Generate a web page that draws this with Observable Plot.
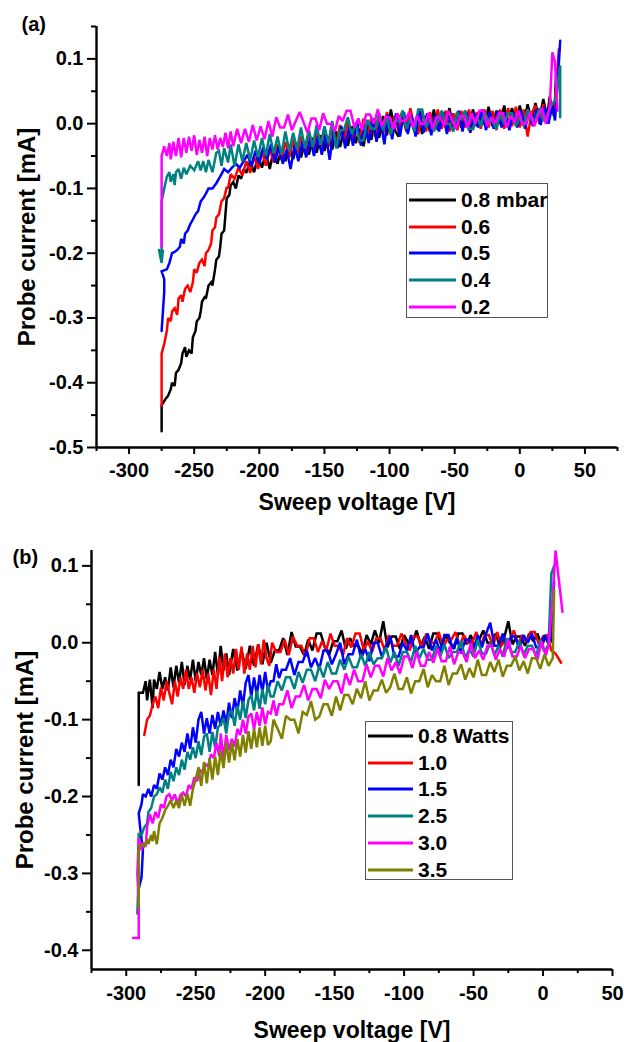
<!DOCTYPE html>
<html>
<head>
<meta charset="utf-8">
<script src="https://cdn.jsdelivr.net/npm/d3@7"></script>
<script src="https://cdn.jsdelivr.net/npm/@observablehq/plot@0.6"></script>
<style>
  html, body { margin: 0; padding: 0; background: #fff; }
  #wrap { position: relative; width: 624px; height: 1042px; overflow: hidden; font-family: "Liberation Sans", Arial, sans-serif; font-weight: bold; }
  .panel { position: absolute; left: 0; }
  .panel text { font-weight: bold; }
  .legend { position: absolute; border: 1px solid #555; background: #fff; box-sizing: border-box; }
  .legend .row { position: absolute; left: 0; height: 22px; display: flex; align-items: center; font-size: 21px; color: #000; white-space: nowrap; }
  .legend .row svg { display: block; }
</style>
</head>
<body>
<div id="wrap"></div>
<script>
// ---------- Panel (a): pressure series ----------
const seriesA = ["0.8 mbar", "0.6", "0.5", "0.4", "0.2"];
const colorsA = ["#000000", "#ff0000", "#0000ff", "#008080", "#ff00ff"];

const a08 = [[-275,-0.475],[-275,-0.435],[-272,-0.425],[-270,-0.42],[-268,-0.41],[-267,-0.4],[-265,-0.405],[-264,-0.385],[-262,-0.38],[-260,-0.37],[-259,-0.355],[-257,-0.345],[-256,-0.36],[-254,-0.35],[-252,-0.355],[-251,-0.33],[-249,-0.32],[-248,-0.305],[-246,-0.3],[-245,-0.29],[-244,-0.275],[-242,-0.268],[-241,-0.27],[-239,-0.25],[-237,-0.245],[-236,-0.25],[-234,-0.225],[-233,-0.21],[-231,-0.205],[-230,-0.19],[-229,-0.17],[-227,-0.165],[-226,-0.14],[-225,-0.115],[-223,-0.11],[-222,-0.095],[-220,-0.09],[-218,-0.1],[-216,-0.08],[-214,-0.085],[-212,-0.07],[-210,-0.076],[-207,-0.058],[-204,-0.075],[-201,-0.05],[-198,-0.068],[-195,-0.045],[-192,-0.07],[-189,-0.04],[-186,-0.062],[-183,-0.038],[-180,-0.058],[-177,-0.032],[-174,-0.055],[-171,-0.03],[-168,-0.052],[-165,-0.028],[-162,-0.048],[-159,-0.022],[-156,-0.045],[-153,-0.018],[-150,-0.042],[-147,-0.02],[-144,-0.04],[-141,-0.012],[-138,-0.036],[-135,-0.01],[-132,-0.034],[-129,-0.004],[-126,-0.03],[-123,-0.008],[-120,-0.035],[-117,0.0],[-114,-0.025],[-111,0.005],[-108,-0.022],[-105,0.012],[-102,-0.018],[-99,0.022],[-96,-0.01],[-93,-0.02],[-90,0.012],[-87,-0.012],[-84,0.02],[-81,-0.012],[-78,0.016],[-75,-0.016],[-72,0.012],[-69,-0.012],[-66,0.022],[-63,-0.01],[-60,0.016],[-57,-0.006],[-54,0.024],[-51,-0.008],[-48,0.018],[-45,-0.006],[-42,0.02],[-39,-0.01],[-36,0.022],[-33,-0.004],[-30,0.018],[-27,-0.002],[-24,0.026],[-21,-0.004],[-18,0.02],[-15,0.0],[-12,0.028],[-9,-0.002],[-6,0.024],[-3,0.002],[0,0.028],[3,0.0],[6,0.03],[9,0.004],[12,0.032],[15,0.006],[18,0.038],[21,0.01],[23,0.042],[25,0.015],[27,0.035],[28,0.085],[29,0.06]];

const a06 = [[-275,-0.435],[-275,-0.355],[-273,-0.34],[-271,-0.32],[-270,-0.3],[-268,-0.305],[-267,-0.29],[-265,-0.285],[-263,-0.295],[-262,-0.27],[-260,-0.265],[-259,-0.275],[-257,-0.255],[-255,-0.25],[-253,-0.26],[-251,-0.245],[-250,-0.225],[-248,-0.23],[-246,-0.215],[-244,-0.21],[-242,-0.22],[-241,-0.2],[-239,-0.195],[-237,-0.185],[-236,-0.165],[-234,-0.16],[-233,-0.145],[-231,-0.14],[-229,-0.12],[-227,-0.115],[-225,-0.098],[-224,-0.1],[-222,-0.078],[-219,-0.085],[-216,-0.068],[-213,-0.08],[-210,-0.058],[-207,-0.076],[-204,-0.05],[-201,-0.07],[-198,-0.042],[-195,-0.065],[-192,-0.038],[-189,-0.06],[-186,-0.032],[-183,-0.056],[-180,-0.028],[-177,-0.052],[-174,-0.025],[-171,-0.048],[-168,-0.02],[-165,-0.044],[-162,-0.012],[-159,-0.04],[-156,-0.014],[-153,-0.038],[-150,-0.006],[-147,-0.036],[-144,-0.004],[-141,-0.032],[-138,-0.002],[-135,-0.028],[-132,0.004],[-129,-0.026],[-126,0.0],[-123,-0.03],[-120,0.008],[-117,-0.022],[-114,0.01],[-111,-0.02],[-108,0.015],[-105,-0.016],[-102,0.018],[-99,-0.018],[-96,0.012],[-93,-0.014],[-90,0.02],[-87,-0.012],[-84,0.024],[-81,-0.008],[-78,-0.016],[-75,0.02],[-72,-0.012],[-69,0.018],[-66,-0.01],[-63,0.022],[-60,-0.008],[-57,0.02],[-54,-0.012],[-51,0.016],[-48,-0.01],[-45,0.02],[-42,-0.006],[-39,0.022],[-36,-0.01],[-33,0.018],[-30,-0.008],[-27,0.022],[-24,-0.006],[-21,0.02],[-18,-0.01],[-15,0.022],[-12,-0.008],[-9,0.024],[-6,-0.004],[-3,0.026],[0,-0.006],[3,0.022],[6,-0.02],[9,0.016],[12,0.028],[15,0.0],[18,0.03],[21,0.004],[24,0.035],[26,0.012],[28,0.06],[30,0.115]];

const a05 = [[-275,-0.32],[-274,-0.29],[-273,-0.26],[-273,-0.24],[-275,-0.228],[-271,-0.225],[-269,-0.215],[-267,-0.2],[-265,-0.198],[-263,-0.195],[-261,-0.19],[-260,-0.178],[-258,-0.185],[-257,-0.17],[-255,-0.165],[-253,-0.155],[-251,-0.148],[-249,-0.14],[-247,-0.135],[-245,-0.12],[-243,-0.115],[-241,-0.108],[-239,-0.1],[-236,-0.1],[-233,-0.092],[-231,-0.085],[-229,-0.078],[-227,-0.07],[-224,-0.075],[-221,-0.068],[-218,-0.062],[-215,-0.068],[-212,-0.058],[-209,-0.048],[-206,-0.066],[-203,-0.042],[-200,-0.062],[-197,-0.036],[-194,-0.055],[-191,-0.032],[-188,-0.06],[-185,-0.035],[-182,-0.062],[-179,-0.04],[-176,-0.07],[-173,-0.034],[-170,-0.058],[-167,-0.028],[-164,-0.052],[-161,-0.022],[-158,-0.05],[-155,-0.02],[-152,-0.048],[-149,-0.016],[-146,-0.056],[-143,-0.012],[-140,-0.038],[-137,-0.004],[-134,-0.038],[-131,-0.006],[-128,-0.034],[-125,0.004],[-122,-0.034],[-119,0.0],[-116,-0.03],[-113,0.008],[-110,-0.028],[-107,0.006],[-104,-0.032],[-101,0.014],[-98,-0.024],[-95,0.016],[-92,-0.02],[-89,0.018],[-86,-0.016],[-83,0.012],[-80,-0.02],[-77,0.02],[-74,-0.014],[-71,0.016],[-68,-0.018],[-65,0.014],[-62,-0.012],[-59,0.018],[-56,-0.016],[-53,0.014],[-50,-0.008],[-47,0.02],[-44,-0.012],[-41,0.018],[-38,-0.014],[-35,0.016],[-32,-0.006],[-29,0.022],[-26,-0.01],[-23,0.018],[-20,-0.008],[-17,0.02],[-14,-0.006],[-11,0.016],[-8,-0.01],[-5,0.018],[-2,-0.006],[1,0.02],[4,-0.008],[7,0.018],[10,-0.004],[13,0.022],[16,-0.002],[19,0.026],[22,0.0],[25,0.028],[27,0.005],[29,0.06],[31,0.128]];

const a04 = [[-277,-0.195],[-275,-0.215],[-274,-0.195],[-275,-0.2],[-275,-0.12],[-273,-0.1],[-271,-0.082],[-269,-0.075],[-268,-0.09],[-266,-0.078],[-265,-0.095],[-264,-0.075],[-262,-0.07],[-260,-0.085],[-258,-0.068],[-256,-0.078],[-253,-0.065],[-250,-0.072],[-247,-0.058],[-245,-0.072],[-243,-0.058],[-241,-0.075],[-239,-0.056],[-236,-0.075],[-233,-0.045],[-231,-0.042],[-229,-0.065],[-227,-0.038],[-224,-0.06],[-222,-0.032],[-219,-0.066],[-216,-0.032],[-213,-0.058],[-210,-0.03],[-207,-0.056],[-204,-0.026],[-201,-0.052],[-198,-0.022],[-195,-0.05],[-192,-0.016],[-189,-0.046],[-186,-0.02],[-183,-0.048],[-180,-0.012],[-177,-0.042],[-174,-0.014],[-171,-0.04],[-168,-0.006],[-165,-0.038],[-162,-0.01],[-159,-0.036],[-156,-0.002],[-153,-0.033],[-150,-0.004],[-147,-0.03],[-144,0.004],[-141,-0.038],[-138,-0.01],[-135,-0.01],[-132,0.01],[-129,-0.016],[-126,0.0],[-123,-0.026],[-120,-0.026],[-117,0.006],[-114,-0.008],[-111,-0.008],[-108,0.016],[-105,-0.01],[-102,0.01],[-99,-0.016],[-96,0.004],[-93,0.004],[-90,0.02],[-87,-0.008],[-84,0.008],[-81,-0.012],[-78,0.022],[-75,0.022],[-72,-0.006],[-69,0.008],[-66,-0.012],[-63,0.004],[-60,0.02],[-57,0.0],[-54,0.0],[-51,-0.012],[-48,0.018],[-45,0.006],[-42,0.02],[-39,-0.008],[-36,-0.008],[-33,0.012],[-30,-0.004],[-27,0.018],[-24,0.004],[-21,0.004],[-18,-0.008],[-15,0.014],[-12,0.0],[-9,0.016],[-6,0.016],[-3,-0.004],[0,0.01],[3,-0.004],[6,0.022],[9,0.006],[12,0.006],[15,0.024],[18,0.004],[21,0.014],[24,0.028],[27,0.035],[29,0.06],[31,0.09],[31,0.01]];

const a02 = [[-275,-0.19],[-275,-0.05],[-273,-0.035],[-271,-0.05],[-269,-0.03],[-268,-0.055],[-266,-0.028],[-264,-0.05],[-262,-0.022],[-260,-0.052],[-258,-0.022],[-256,-0.045],[-254,-0.02],[-252,-0.042],[-250,-0.018],[-248,-0.048],[-246,-0.025],[-244,-0.045],[-242,-0.02],[-240,-0.05],[-238,-0.022],[-236,-0.04],[-234,-0.018],[-232,-0.04],[-230,-0.022],[-228,-0.036],[-226,-0.014],[-224,-0.038],[-222,-0.012],[-220,-0.035],[-217,-0.008],[-214,-0.03],[-211,-0.008],[-208,-0.028],[-205,-0.002],[-202,-0.026],[-199,-0.004],[-196,-0.024],[-193,0.004],[-190,-0.02],[-187,0.01],[-184,-0.006],[-181,-0.006],[-178,0.014],[-175,-0.01],[-172,0.004],[-169,0.018],[-166,0.002],[-163,-0.014],[-160,0.008],[-157,0.008],[-154,-0.01],[-151,0.016],[-148,0.0],[-145,0.0],[-142,-0.012],[-139,0.012],[-136,0.004],[-133,0.02],[-130,0.02],[-127,-0.006],[-124,0.008],[-121,-0.01],[-118,0.014],[-115,0.014],[-112,0.0],[-109,0.022],[-106,-0.004],[-103,0.01],[-100,0.01],[-97,-0.008],[-94,0.016],[-91,0.004],[-88,0.004],[-85,0.018],[-82,-0.006],[-79,0.012],[-76,0.0],[-73,0.0],[-70,0.016],[-67,-0.008],[-64,0.01],[-61,0.01],[-58,-0.004],[-55,0.02],[-52,0.006],[-49,-0.008],[-46,0.012],[-43,0.012],[-40,-0.006],[-37,0.016],[-34,0.0],[-31,0.02],[-28,0.02],[-25,-0.004],[-22,0.01],[-19,0.0],[-16,0.016],[-13,0.016],[-10,-0.006],[-7,0.012],[-4,0.002],[-1,0.02],[2,0.0],[5,0.0],[8,0.018],[11,-0.004],[14,0.012],[17,0.024],[20,0.0],[23,0.026],[25,0.11],[27,0.095],[29,0.02]];

// ---------- Panel (b): power series ----------
const seriesB = ["0.8 Watts", "1.0", "1.5", "2.5", "3.0", "3.5"];
const colorsB = ["#000000", "#ff0000", "#0000ff", "#008080", "#ff00ff", "#808000"];

const b08 = [[-291,-0.185],[-291,-0.065],[-288,-0.065],[-286,-0.05],[-285,-0.075],[-283,-0.048],[-281,-0.085],[-280,-0.048],[-278,-0.06],[-276,-0.038],[-274,-0.06],[-272,-0.045],[-270,-0.062],[-268,-0.032],[-266,-0.058],[-264,-0.03],[-262,-0.052],[-260,-0.025],[-258,-0.055],[-256,-0.03],[-254,-0.048],[-252,-0.022],[-250,-0.05],[-248,-0.025],[-246,-0.042],[-244,-0.02],[-242,-0.048],[-240,-0.022],[-238,-0.042],[-236,-0.012],[-234,-0.042],[-232,-0.004],[-230,-0.036],[-228,-0.014],[-226,-0.042],[-223,-0.008],[-220,-0.036],[-217,-0.01],[-214,-0.034],[-211,-0.004],[-208,-0.03],[-205,-0.002],[-202,-0.028],[-199,0.0],[-196,-0.026],[-193,-0.01],[-190,-0.01],[-187,0.006],[-184,-0.016],[-181,0.014],[-178,-0.005],[-175,-0.005],[-172,-0.016],[-169,0.004],[-166,-0.01],[-163,0.012],[-160,0.012],[-157,-0.006],[-154,-0.016],[-151,0.002],[-148,0.002],[-145,0.016],[-142,-0.008],[-139,0.006],[-136,-0.004],[-133,-0.004],[-130,-0.014],[-127,0.01],[-124,-0.002],[-121,0.016],[-118,0.0],[-115,0.028],[-112,-0.006],[-109,0.008],[-106,0.008],[-103,-0.008],[-100,0.01],[-97,0.0],[-94,0.0],[-91,0.016],[-88,-0.004],[-85,0.008],[-82,-0.008],[-79,0.012],[-76,0.012],[-73,-0.004],[-70,0.01],[-67,0.0],[-64,-0.008],[-61,0.012],[-58,0.012],[-55,-0.002],[-52,0.01],[-49,-0.006],[-46,0.004],[-43,0.016],[-40,0.0],[-37,0.0],[-34,0.012],[-31,-0.006],[-28,0.006],[-25,0.028],[-22,-0.002],[-19,0.008],[-16,0.008],[-13,-0.004],[-10,0.012],[-7,0.002],[-4,0.012],[-1,-0.004],[2,0.008],[5,0.008],[7,0.0]];

const b10 = [[-287,-0.12],[-285,-0.1],[-283,-0.095],[-281,-0.08],[-279,-0.07],[-277,-0.085],[-275,-0.058],[-273,-0.075],[-271,-0.05],[-269,-0.065],[-267,-0.08],[-265,-0.05],[-263,-0.07],[-261,-0.045],[-259,-0.06],[-257,-0.035],[-255,-0.06],[-253,-0.045],[-251,-0.065],[-249,-0.04],[-247,-0.058],[-245,-0.035],[-243,-0.062],[-241,-0.04],[-239,-0.068],[-237,-0.035],[-235,-0.06],[-233,-0.018],[-231,-0.05],[-229,-0.014],[-227,-0.045],[-225,-0.02],[-223,-0.04],[-221,-0.008],[-219,-0.035],[-217,-0.005],[-215,-0.04],[-213,-0.014],[-211,-0.035],[-209,-0.004],[-207,-0.032],[-205,-0.002],[-203,-0.028],[-201,0.004],[-199,-0.02],[-197,-0.03],[-195,0.0],[-192,-0.012],[-189,-0.012],[-186,0.004],[-183,-0.016],[-180,0.008],[-177,-0.004],[-174,-0.004],[-171,-0.018],[-168,0.006],[-165,0.006],[-162,-0.012],[-159,0.002],[-156,-0.01],[-153,0.012],[-150,-0.004],[-147,-0.004],[-144,-0.016],[-141,0.006],[-138,-0.006],[-135,0.012],[-132,0.012],[-129,-0.01],[-126,0.002],[-123,-0.012],[-120,0.006],[-117,0.006],[-114,-0.01],[-111,0.01],[-108,-0.004],[-105,-0.004],[-102,0.012],[-99,0.0],[-96,-0.01],[-93,0.008],[-90,0.008],[-87,-0.006],[-84,0.012],[-81,0.0],[-78,0.0],[-75,0.014],[-72,-0.006],[-69,0.004],[-66,0.004],[-63,0.014],[-60,-0.004],[-57,0.01],[-54,0.0],[-51,0.0],[-48,0.014],[-45,-0.004],[-42,0.01],[-39,0.01],[-36,-0.004],[-33,0.014],[-30,-0.004],[-27,0.004],[-24,0.004],[-21,0.016],[-18,-0.002],[-15,0.01],[-12,0.0],[-9,0.014],[-6,0.014],[-3,-0.002],[0,0.008],[3,0.01],[6,-0.01],[9,-0.014],[13,-0.026]];

const b15 = [[-291,-0.32],[-289,-0.305],[-288,-0.27],[-290,-0.24],[-291,-0.222],[-289,-0.21],[-288,-0.197],[-286,-0.2],[-284,-0.19],[-282,-0.2],[-280,-0.185],[-278,-0.19],[-276,-0.17],[-274,-0.178],[-272,-0.162],[-270,-0.172],[-268,-0.152],[-266,-0.162],[-264,-0.138],[-262,-0.148],[-260,-0.13],[-258,-0.142],[-256,-0.118],[-254,-0.138],[-252,-0.11],[-250,-0.13],[-248,-0.1],[-246,-0.09],[-244,-0.118],[-242,-0.098],[-240,-0.118],[-238,-0.094],[-236,-0.112],[-234,-0.09],[-232,-0.108],[-230,-0.088],[-228,-0.106],[-226,-0.078],[-224,-0.098],[-222,-0.072],[-220,-0.09],[-218,-0.062],[-216,-0.082],[-214,-0.052],[-212,-0.042],[-210,-0.07],[-208,-0.045],[-206,-0.068],[-204,-0.042],[-202,-0.064],[-200,-0.038],[-198,-0.062],[-196,-0.05],[-194,-0.05],[-192,-0.028],[-190,-0.046],[-188,-0.035],[-185,-0.035],[-182,-0.02],[-179,-0.042],[-176,-0.025],[-173,-0.025],[-170,-0.01],[-167,-0.032],[-164,-0.02],[-161,-0.034],[-158,-0.01],[-155,-0.01],[-152,-0.028],[-149,-0.015],[-146,0.0],[-143,-0.028],[-140,-0.015],[-137,-0.015],[-134,0.004],[-131,-0.02],[-128,-0.008],[-125,-0.024],[-122,0.0],[-119,0.0],[-116,-0.018],[-113,-0.005],[-110,0.008],[-107,-0.018],[-104,-0.018],[-101,0.0],[-98,-0.01],[-95,0.01],[-92,-0.014],[-89,-0.006],[-86,-0.006],[-83,0.012],[-80,-0.01],[-77,0.004],[-74,-0.012],[-71,0.01],[-68,0.01],[-65,-0.008],[-62,0.006],[-59,-0.014],[-56,0.004],[-53,0.004],[-50,-0.01],[-47,0.01],[-44,-0.006],[-41,0.012],[-38,0.026],[-35,-0.004],[-32,-0.004],[-29,0.012],[-26,-0.008],[-23,0.008],[-20,0.008],[-17,-0.008],[-14,0.01],[-11,0.0],[-8,0.012],[-5,-0.006],[-2,-0.006],[1,0.01],[4,-0.002],[6,0.012],[8,0.08]];

const b25 = [[-292,-0.352],[-291,-0.3],[-291,-0.249],[-289,-0.25],[-287,-0.24],[-285,-0.235],[-284,-0.22],[-282,-0.215],[-280,-0.2],[-278,-0.197],[-276,-0.188],[-274,-0.195],[-272,-0.178],[-270,-0.19],[-268,-0.168],[-266,-0.18],[-264,-0.162],[-262,-0.172],[-260,-0.152],[-258,-0.165],[-256,-0.142],[-254,-0.152],[-252,-0.136],[-250,-0.15],[-248,-0.128],[-246,-0.146],[-244,-0.122],[-242,-0.118],[-240,-0.142],[-238,-0.116],[-236,-0.136],[-234,-0.11],[-232,-0.106],[-230,-0.098],[-228,-0.118],[-226,-0.092],[-224,-0.088],[-222,-0.108],[-220,-0.082],[-218,-0.1],[-216,-0.076],[-214,-0.098],[-212,-0.074],[-210,-0.068],[-208,-0.088],[-206,-0.062],[-204,-0.086],[-202,-0.06],[-200,-0.08],[-198,-0.055],[-196,-0.07],[-194,-0.07],[-191,-0.05],[-188,-0.062],[-185,-0.045],[-182,-0.045],[-179,-0.06],[-176,-0.038],[-173,-0.052],[-170,-0.035],[-167,-0.035],[-164,-0.05],[-161,-0.03],[-158,-0.045],[-155,-0.025],[-152,-0.04],[-149,-0.04],[-146,-0.022],[-143,-0.035],[-140,-0.018],[-137,-0.032],[-134,-0.032],[-131,-0.015],[-128,-0.03],[-125,-0.012],[-122,-0.028],[-119,-0.02],[-116,-0.02],[-113,-0.006],[-110,-0.026],[-107,-0.012],[-104,-0.03],[-101,-0.012],[-98,-0.012],[-95,-0.025],[-92,-0.004],[-89,-0.02],[-86,-0.008],[-83,-0.022],[-80,-0.022],[-77,-0.004],[-74,-0.018],[-71,-0.002],[-68,-0.02],[-65,-0.012],[-62,-0.012],[-59,0.002],[-56,-0.02],[-53,-0.008],[-50,-0.018],[-47,0.004],[-44,-0.014],[-41,-0.014],[-38,0.0],[-35,-0.016],[-32,-0.004],[-29,-0.018],[-26,0.006],[-23,-0.012],[-20,-0.012],[-17,0.002],[-14,-0.016],[-11,-0.004],[-8,-0.004],[-5,-0.018],[-2,0.004],[1,-0.012],[4,-0.002],[6,0.09],[8,0.1]];

const b30 = [[-295,-0.384],[-291,-0.384],[-291,-0.34],[-292,-0.3],[-291,-0.254],[-289,-0.27],[-288,-0.26],[-286,-0.265],[-285,-0.24],[-283,-0.223],[-281,-0.235],[-279,-0.22],[-277,-0.228],[-275,-0.21],[-273,-0.215],[-271,-0.2],[-269,-0.197],[-267,-0.205],[-265,-0.197],[-263,-0.21],[-261,-0.198],[-259,-0.195],[-257,-0.2],[-255,-0.185],[-253,-0.19],[-251,-0.175],[-249,-0.18],[-247,-0.165],[-245,-0.17],[-243,-0.158],[-241,-0.16],[-239,-0.145],[-237,-0.15],[-235,-0.13],[-233,-0.148],[-232,-0.118],[-231,-0.135],[-230,-0.15],[-228,-0.12],[-226,-0.14],[-224,-0.125],[-222,-0.135],[-220,-0.112],[-218,-0.12],[-216,-0.1],[-214,-0.118],[-212,-0.096],[-210,-0.092],[-208,-0.113],[-206,-0.09],[-204,-0.108],[-202,-0.084],[-200,-0.106],[-198,-0.09],[-196,-0.092],[-194,-0.075],[-192,-0.095],[-190,-0.08],[-187,-0.08],[-184,-0.062],[-181,-0.085],[-178,-0.07],[-175,-0.07],[-172,-0.055],[-169,-0.075],[-166,-0.06],[-163,-0.06],[-160,-0.072],[-157,-0.048],[-154,-0.06],[-151,-0.05],[-148,-0.05],[-145,-0.066],[-142,-0.04],[-139,-0.055],[-136,-0.035],[-133,-0.05],[-130,-0.05],[-127,-0.028],[-124,-0.045],[-121,-0.03],[-118,-0.03],[-115,-0.044],[-112,-0.02],[-109,-0.036],[-106,-0.025],[-103,-0.04],[-100,-0.018],[-97,-0.018],[-94,-0.033],[-91,-0.012],[-88,-0.03],[-85,-0.03],[-82,-0.012],[-79,-0.026],[-76,-0.008],[-73,-0.024],[-70,-0.024],[-67,-0.005],[-64,-0.028],[-61,-0.012],[-58,-0.012],[-55,-0.025],[-52,0.0],[-49,-0.02],[-46,-0.01],[-43,-0.022],[-40,-0.004],[-37,-0.004],[-34,-0.022],[-31,-0.008],[-28,-0.018],[-25,0.004],[-22,-0.018],[-19,-0.018],[-16,-0.004],[-13,-0.02],[-10,-0.008],[-7,-0.008],[-4,-0.022],[-1,0.002],[2,-0.016],[4,-0.004],[7,0.06],[9,0.12],[14,0.04]];

const b35 = [[-291,-0.344],[-291,-0.266],[-289,-0.262],[-287,-0.265],[-285,-0.255],[-284,-0.262],[-282,-0.25],[-281,-0.258],[-280,-0.245],[-278,-0.262],[-276,-0.235],[-274,-0.228],[-272,-0.218],[-270,-0.212],[-268,-0.205],[-266,-0.215],[-264,-0.205],[-262,-0.215],[-260,-0.198],[-258,-0.212],[-256,-0.196],[-254,-0.212],[-252,-0.19],[-250,-0.178],[-248,-0.162],[-246,-0.186],[-244,-0.155],[-242,-0.183],[-240,-0.15],[-238,-0.178],[-236,-0.148],[-234,-0.172],[-232,-0.14],[-230,-0.163],[-228,-0.13],[-226,-0.156],[-224,-0.13],[-222,-0.153],[-220,-0.125],[-218,-0.148],[-216,-0.12],[-214,-0.143],[-212,-0.115],[-210,-0.138],[-208,-0.112],[-206,-0.136],[-204,-0.11],[-202,-0.134],[-200,-0.108],[-198,-0.133],[-196,-0.128],[-194,-0.1],[-191,-0.112],[-188,-0.125],[-185,-0.095],[-182,-0.1],[-179,-0.1],[-176,-0.118],[-173,-0.09],[-170,-0.094],[-167,-0.076],[-164,-0.1],[-161,-0.096],[-158,-0.08],[-155,-0.08],[-152,-0.095],[-149,-0.07],[-146,-0.088],[-143,-0.068],[-140,-0.068],[-137,-0.08],[-134,-0.06],[-131,-0.072],[-128,-0.05],[-125,-0.075],[-122,-0.062],[-119,-0.062],[-116,-0.048],[-113,-0.065],[-110,-0.058],[-107,-0.04],[-104,-0.06],[-101,-0.06],[-98,-0.045],[-95,-0.066],[-92,-0.05],[-89,-0.05],[-86,-0.034],[-83,-0.058],[-80,-0.042],[-77,-0.05],[-74,-0.05],[-71,-0.03],[-68,-0.055],[-65,-0.04],[-62,-0.04],[-59,-0.028],[-56,-0.048],[-53,-0.033],[-50,-0.045],[-47,-0.022],[-44,-0.042],[-41,-0.042],[-38,-0.025],[-35,-0.038],[-32,-0.022],[-29,-0.044],[-26,-0.03],[-23,-0.03],[-20,-0.018],[-17,-0.036],[-14,-0.024],[-11,-0.04],[-8,-0.02],[-5,-0.02],[-2,-0.034],[1,-0.015],[4,-0.03],[7,-0.02],[8,0.068]];

// ---------- Tick values ----------
const xMajorA = [-300, -250, -200, -150, -100, -50, 0, 50];
const xMinorA = [-325, -275, -225, -175, -125, -75, -25, 25, 75];
const yMajorA = [-0.5, -0.4, -0.3, -0.2, -0.1, 0, 0.1];
const yMinorA = [-0.45, -0.35, -0.25, -0.15, -0.05, 0.05, 0.15];
const xMajorB = [-300, -250, -200, -150, -100, -50, 0, 50];
const xMinorB = [-325, -275, -225, -175, -125, -75, -25, 25];
const yMajorB = [-0.4, -0.3, -0.2, -0.1, 0, 0.1];
const yMinorB = [-0.35, -0.25, -0.15, -0.05, 0.05];

const FONT = "'Liberation Sans', Arial, Helvetica, sans-serif";
const fmtY = d => Math.abs(d) < 1e-9 ? "0.0" : d.toFixed(1);
const fmtX = d => String(d);

function panel(cfg) {
  const marks = [];
  cfg.series.forEach((data, i) => {
    marks.push(Plot.line(data, {x: d => d[0], y: d => d[1], stroke: cfg.colors[i], strokeWidth: 2.5, strokeLinejoin: "miter", strokeMiterlimit: 2}));
  });
  marks.push(
    Plot.ruleX([cfg.xDomain[0]], {strokeWidth: 2.4}),
    Plot.ruleY([cfg.yDomain[0]], {strokeWidth: 2.4}),
    Plot.axisX(cfg.xMajor, {tickSize: 7, tickPadding: cfg.xPad, strokeWidth: 2, fontSize: 20, fontWeight: "bold", tickFormat: fmtX, label: null}),
    Plot.axisX(cfg.xMinor, {tickSize: 4, strokeWidth: 2, tickFormat: () => "", label: null}),
    Plot.axisY(cfg.yMajor, {tickSize: 9, tickPadding: 4, strokeWidth: 2, fontSize: 20, fontWeight: "bold", tickFormat: fmtY, label: null}),
    Plot.axisY(cfg.yMinor, {tickSize: 5, strokeWidth: 2, tickFormat: () => "", label: null}),
    Plot.text([cfg.xLabel], {text: d => d, frameAnchor: "bottom", textAnchor: "middle", lineAnchor: "middle", dy: cfg.xLabelDy, fontSize: 23, fontWeight: "bold"}),
    Plot.text([cfg.yLabel], {text: d => d, frameAnchor: "left", textAnchor: "middle", lineAnchor: "middle", rotate: -90, dx: cfg.yLabelDx, fontSize: 24, fontWeight: "bold"}),
    Plot.text([cfg.tag], {text: d => d, frameAnchor: "top-left", textAnchor: "start", lineAnchor: "middle", dx: cfg.tagDx, dy: cfg.tagDy, fontSize: 20, fontWeight: "bold"})
  );
  return Plot.plot({
    width: 624,
    height: cfg.height,
    marginLeft: cfg.ml, marginRight: cfg.mr, marginTop: cfg.mt, marginBottom: cfg.mb,
    x: {domain: cfg.xDomain},
    y: {domain: cfg.yDomain},
    style: {fontFamily: FONT, fontWeight: "bold", color: "#000", background: "transparent", overflow: "visible"},
    marks
  });
}

function legend(cfg) {
  const box = document.createElement("div");
  box.className = "legend";
  Object.assign(box.style, {left: cfg.left + "px", top: cfg.top + "px", width: cfg.width + "px", height: cfg.height + "px"});
  cfg.labels.forEach((lab, i) => {
    const row = document.createElement("div");
    row.className = "row";
    row.style.top = (cfg.first + i * cfg.step - 11) + "px";
    row.style.left = cfg.lineX + "px";
    row.innerHTML = `<svg width="${cfg.lineW}" height="22"><line x1="0" x2="${cfg.lineW}" y1="11" y2="11" stroke="${cfg.colors[i]}" stroke-width="3"/></svg><span style="margin-left:${cfg.gap}px">${lab}</span>`;
    box.appendChild(row);
  });
  return box;
}

const wrap = document.getElementById("wrap");

const pa = panel({
  series: [a08, a06, a05, a04, a02], colors: colorsA,
  height: 520, ml: 96, mr: 7, mt: 26, mb: 73,
  xDomain: [-325, 75], yDomain: [-0.5, 0.15],
  xMajor: xMajorA, xMinor: xMinorA, yMajor: yMajorA, yMinor: yMinorA, xPad: 8,
  xLabel: "Sweep voltage [V]", xLabelDy: 55,
  yLabel: "Probe current [mA]", yLabelDx: -69,
  tag: "(a)", tagDx: -75, tagDy: -2
});
pa.classList.add("panel");
pa.style.top = "0px";
wrap.appendChild(pa);

const pb = panel({
  series: [b08, b10, b15, b25, b30, b35], colors: colorsB,
  height: 522, ml: 91, mr: 12, mt: 30, mb: 73,
  xDomain: [-325, 50], yDomain: [-0.425, 0.12],
  xMajor: xMajorB, xMinor: xMinorB, yMajor: yMajorB, yMinor: yMinorB, xPad: 9,
  xLabel: "Sweep voltage [V]", xLabelDy: 61,
  yLabel: "Probe current [mA]", yLabelDx: -66,
  tag: "(b)", tagDx: -79, tagDy: 7
});
pb.classList.add("panel");
pb.style.top = "520px";
wrap.appendChild(pb);

wrap.appendChild(legend({labels: seriesA, colors: colorsA, left: 406, top: 183, width: 142, height: 135, first: 16, step: 26.7, lineX: 2, lineW: 47, gap: 5}));
wrap.appendChild(legend({labels: seriesB, colors: colorsB, left: 365, top: 721, width: 148, height: 159, first: 14, step: 26.7, lineX: 2, lineW: 45, gap: 5}));
</script>
</body>
</html>
